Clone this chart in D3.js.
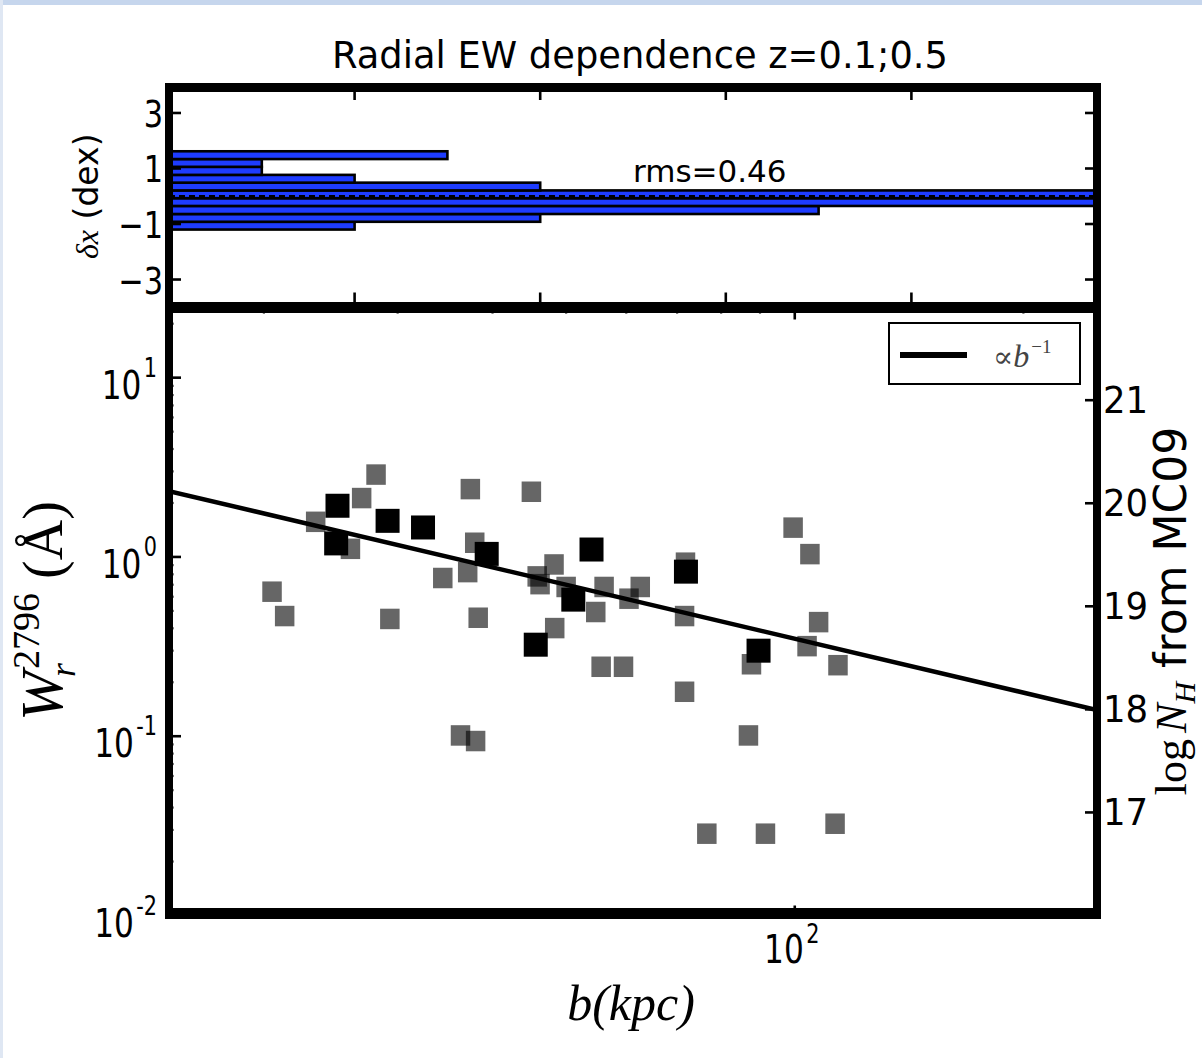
<!DOCTYPE html>
<html>
<head>
<meta charset="utf-8">
<script src="https://cdn.jsdelivr.net/npm/d3@7"></script>
<style>
  body { margin: 0; background: #fff; }
  svg { display: block; }
</style>
</head>
<body>
<svg id="chart"></svg>
<script>
// impact parameter b (kpc) and rest equivalent width W (A)
const grayB = [28.1, 26.9, 23.4, 26.0, 37.4, 45.0, 37.9, 37.1, 34.4, 20.5, 21.3, 29.3, 38.3,
               45.8, 46.2, 48.2, 50.0, 54.7, 56.1, 60.5, 62.6, 71.8, 71.6, 48.3, 55.6, 59.5,
               71.6, 87.7, 99.5, 104.7, 107.5, 103.8, 114.0, 86.9, 36.3, 38.0, 76.6, 91.5, 113.0]
const grayW = [2.88, 2.13, 1.57, 1.11, 2.39, 2.31, 1.20, 0.823, 0.763, 0.640, 0.468, 0.451, 0.458,
               0.779, 0.705, 0.908, 0.680, 0.493, 0.680, 0.585, 0.680, 0.929, 0.468, 0.401, 0.244, 0.244,
               0.177, 0.252, 1.457, 1.037, 0.433, 0.318, 0.249, 0.101, 0.101, 0.094, 0.0286, 0.0286, 0.0325]
const blackB = [25.0, 24.9, 29.1, 32.4, 39.3, 45.6, 51.1, 54.0, 71.9, 89.6]
const blackW = [1.93, 1.19, 1.59, 1.46, 1.04, 0.324, 0.578, 1.10, 0.828, 0.300]

// fitted relation W ~ b^-1 (end points)
const fitB = [15, 250]
const fitW = [2.33, 0.14]

// residual histogram (dex): bin edges and counts
const binEdges = [-1.2, -0.92, -0.64, -0.35, -0.07, 0.21, 0.49, 0.77, 1.06, 1.34, 1.62]
const binCounts = [2, 4, 7, 13, 12, 4, 2, 1, 1, 3]

const topYTicks = [3, 1, -1, -3]
const topXTicks = [2, 4, 6, 8]
const wMajor = [0.01, 0.1, 1, 10]
const wMinor = [0.02, 0.03, 0.04, 0.05, 0.06, 0.07, 0.08, 0.09,
                0.2, 0.3, 0.4, 0.5, 0.6, 0.7, 0.8, 0.9,
                2, 3, 4, 5, 6, 7, 8, 9, 20]
const bMajor = [100]
const bMinor = [20, 30, 40, 50, 60, 70, 80, 90, 200]
const nhTicks = [17, 18, 19, 20, 21]

let width = 1202, height = 1058
let svg = d3.select('#chart').attr('width', width).attr('height', height)

svg.append('rect').attr('width', width).attr('height', height).attr('fill', '#fff')
svg.append('rect').attr('width', width).attr('height', 5).attr('fill', '#c6d6ed')
svg.append('rect').attr('width', 3).attr('height', height).attr('fill', '#dfe7f3')

let left = 169, right = 1097
let topY0 = 88, topY1 = 304.5
let botY0 = 309.5, botY1 = 915.5

let xTop = d3.scaleLinear().domain([0, 10]).range([left, right])
let yTop = d3.scaleLinear().domain([-3.9, 3.9]).range([topY1, topY0])
let x = d3.scaleLog().domain([15, 250]).range([left, right])
let y = d3.scaleLog().domain([0.01, 24]).range([botY1, botY0])
let yN = d3.scaleLinear().domain([16, 21.88]).range([botY1, botY0])

let defs = svg.append('defs')
defs.append('clipPath').attr('id', 'clipTop').append('rect')
    .attr('x', left).attr('y', topY0).attr('width', right - left).attr('height', topY1 - topY0)
defs.append('clipPath').attr('id', 'clipBot').append('rect')
    .attr('x', left).attr('y', botY0).attr('width', right - left).attr('height', botY1 - botY0)

// ---------- top panel: residual histogram ----------
let topG = svg.append('g').attr('clip-path', 'url(#clipTop)')
topG.selectAll('rect.bar')
    .data(binCounts)
    .join('rect')
        .attr('class', 'bar')
        .attr('x', xTop(0))
        .attr('y', (d, i) => yTop(binEdges[i + 1]))
        .attr('width', d => xTop(d) - xTop(0))
        .attr('height', (d, i) => yTop(binEdges[i]) - yTop(binEdges[i + 1]))
        .attr('fill', '#1e3cff')
        .attr('stroke', '#000')
        .attr('stroke-width', 2.6)

topG.append('line')
    .attr('x1', left).attr('x2', right)
    .attr('y1', yTop(0)).attr('y2', yTop(0))
    .attr('stroke', '#000').attr('stroke-width', 2.6)
    .attr('stroke-dasharray', '6,4')

function ticksY(scale, vals, x0, len, sw) {
    svg.append('g').selectAll('line').data(vals).join('line')
        .attr('x1', x0).attr('x2', x0 + len)
        .attr('y1', d => scale(d)).attr('y2', d => scale(d))
        .attr('stroke', '#000').attr('stroke-width', sw)
}
function ticksX(scale, vals, y0, len, sw) {
    svg.append('g').selectAll('line').data(vals).join('line')
        .attr('y1', y0).attr('y2', y0 + len)
        .attr('x1', d => scale(d)).attr('x2', d => scale(d))
        .attr('stroke', '#000').attr('stroke-width', sw)
}

ticksY(yTop, topYTicks, left, 12, 2.6)
ticksY(yTop, topYTicks, right, -12, 2.6)
ticksX(xTop, topXTicks, topY0, 12, 2.6)
ticksX(xTop, topXTicks, topY1, -12, 2.6)

svg.append('g').selectAll('text').data(topYTicks).join('text')
    .attr('transform', d => `translate(163,${yTop(d) + 14}) scale(0.8,1)`)
    .attr('text-anchor', 'end')
    .attr('font-family', 'DejaVu Sans')
    .attr('font-size', 38)
    .text(d => d < 0 ? '\u2212' + Math.abs(d) : d)

svg.append('text')
    .attr('x', xTop(5)).attr('y', yTop(0.5))
    .attr('font-family', 'DejaVu Sans').attr('font-size', 31)
    .text('rms=0.46')

let dexLab = svg.append('text')
    .attr('transform', `translate(98,${yTop(0)}) rotate(-90)`)
    .attr('text-anchor', 'middle')
dexLab.append('tspan').attr('font-family', 'Liberation Serif').attr('font-style', 'italic')
    .attr('font-size', 32).text('\u03b4x')
dexLab.append('tspan').attr('font-family', 'DejaVu Sans').attr('font-size', 33).text(' (dex)')

// ---------- bottom panel: W vs b ----------
let botG = svg.append('g').attr('clip-path', 'url(#clipBot)')

botG.selectAll('rect.gray')
    .data(d3.zip(grayB, grayW))
    .join('rect')
        .attr('class', 'gray')
        .attr('x', d => x(d[0]) - 9.75)
        .attr('y', d => y(d[1]) - 10.25)
        .attr('width', 19.5)
        .attr('height', 20.5)
        .attr('fill', '#000')
        .attr('fill-opacity', 0.6)

botG.selectAll('rect.black')
    .data(d3.zip(blackB, blackW))
    .join('rect')
        .attr('class', 'black')
        .attr('x', d => x(d[0]) - 12)
        .attr('y', d => y(d[1]) - 12)
        .attr('width', 24)
        .attr('height', 24)
        .attr('fill', '#000')

botG.append('path')
    .datum(d3.zip(fitB, fitW))
    .attr('d', d3.line().x(d => x(d[0])).y(d => y(d[1])))
    .attr('fill', 'none')
    .attr('stroke', '#000')
    .attr('stroke-width', 4.5)

ticksY(y, wMajor, left, 12, 2.6)
ticksY(y, wMinor, left, 4.5, 2.2)
ticksY(yN, nhTicks, right, -12, 2.6)
ticksX(x, bMajor, botY0, 10, 2.6)
ticksX(x, bMinor, botY0, 4, 2.2)
ticksX(x, bMajor, botY1, -10, 2.6)
ticksX(x, bMinor, botY1, -4, 2.2)

// log tick labels 10^n
let wLab = svg.append('g').selectAll('text').data(wMajor).join('text')
    .attr('transform', d => `translate(157,${y(d) + 21}) scale(0.8,1)`)
    .attr('text-anchor', 'end')
    .attr('font-family', 'DejaVu Sans')
wLab.append('tspan').attr('font-size', 39).text('10')
wLab.append('tspan').attr('font-size', 26).attr('dx', 3).attr('dy', -22)
    .text(d => String(Math.round(Math.log10(d))))

let bLab = svg.append('g').selectAll('text').data(bMajor).join('text')
    .attr('transform', d => `translate(${x(d) - 3},963) scale(0.8,1)`)
    .attr('text-anchor', 'middle')
    .attr('font-family', 'DejaVu Sans')
bLab.append('tspan').attr('font-size', 39).text('10')
bLab.append('tspan').attr('font-size', 26).attr('dx', 3).attr('dy', -20)
    .text(d => String(Math.round(Math.log10(d))))

svg.append('g').selectAll('text').data(nhTicks).join('text')
    .attr('transform', d => `translate(1103,${yN(d) + 13}) scale(0.96,1)`)
    .attr('font-family', 'DejaVu Sans')
    .attr('font-size', 37)
    .text(d => d)

// legend
let leg = svg.append('g')
leg.append('rect').attr('x', 889).attr('y', 323).attr('width', 191).attr('height', 61)
    .attr('fill', '#fff').attr('stroke', '#000').attr('stroke-width', 2)
leg.append('line').attr('x1', 900).attr('x2', 967).attr('y1', 355).attr('y2', 355)
    .attr('stroke', '#000').attr('stroke-width', 6)
let legT = leg.append('text').attr('x', 993).attr('y', 367).attr('fill', '#444')
legT.append('tspan').attr('font-family', 'DejaVu Serif').attr('font-size', 30).text('\u221d')
legT.append('tspan').attr('font-family', 'Liberation Serif').attr('font-style', 'italic')
    .attr('font-size', 32).text('b')
legT.append('tspan').attr('font-family', 'Liberation Serif').attr('font-size', 19)
    .attr('dx', 2).attr('dy', -14).text('\u22121')

// spines
let spine = svg.append('g').attr('fill', '#000')
spine.append('rect').attr('x', 165).attr('y', 83).attr('width', 936).attr('height', 9)
spine.append('rect').attr('x', 165).attr('y', 302).attr('width', 936).attr('height', 11)
spine.append('rect').attr('x', 165).attr('y', 908).attr('width', 936).attr('height', 11)
spine.append('rect').attr('x', 165).attr('y', 83).attr('width', 8).attr('height', 836)
spine.append('rect').attr('x', 1093).attr('y', 83).attr('width', 8).attr('height', 836)

// titles and axis labels
svg.append('text')
    .attr('x', 640).attr('y', 68)
    .attr('text-anchor', 'middle')
    .attr('font-family', 'DejaVu Sans').attr('font-size', 37)
    .attr('textLength', 616).attr('lengthAdjust', 'spacingAndGlyphs')
    .text('Radial EW dependence z=0.1;0.5')

svg.append('text')
    .attr('x', 631).attr('y', 1020)
    .attr('text-anchor', 'middle')
    .attr('font-family', 'Liberation Serif').attr('font-style', 'italic')
    .attr('font-size', 50)
    .text('b(kpc)')

let wAxis = svg.append('text')
    .attr('transform', 'translate(62,611) rotate(-90)')
    .attr('text-anchor', 'middle')
    .attr('font-family', 'Liberation Serif')
wAxis.append('tspan').attr('font-style', 'italic').attr('font-size', 60).text('W')
wAxis.append('tspan').attr('font-style', 'italic').attr('font-size', 36).attr('dx', -6).attr('dy', 13).text('r')
wAxis.append('tspan').attr('font-size', 38).attr('dx', -6).attr('dy', -36).text('2796')
wAxis.append('tspan').attr('font-size', 56).attr('dy', 23).text(' (\u00c5)')

let nAxis = svg.append('text')
    .attr('transform', 'translate(1186,611) rotate(-90)')
    .attr('text-anchor', 'middle')
nAxis.append('tspan').attr('font-family', 'Liberation Serif').attr('font-size', 44).text('log')
nAxis.append('tspan').attr('font-family', 'Liberation Serif').attr('font-style', 'italic')
    .attr('font-size', 44).attr('dx', 6).text('N')
nAxis.append('tspan').attr('font-family', 'Liberation Serif').attr('font-style', 'italic')
    .attr('font-size', 30).attr('dy', 9).text('H')
nAxis.append('tspan').attr('font-family', 'DejaVu Sans').attr('font-size', 44)
    .attr('dy', -9).text(' from MC09')
</script>
</body>
</html>
